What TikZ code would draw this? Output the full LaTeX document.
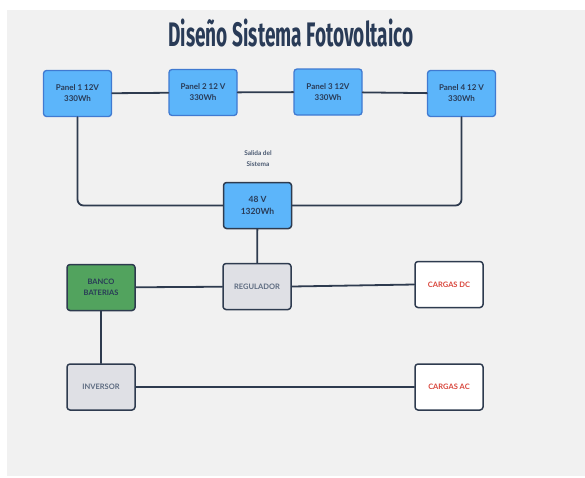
\documentclass[tikz,border=0pt]{standalone}
\usepackage{fontspec}
\setmainfont{Lato}
\newfontfamily\titlefont{Fira Sans}
\usetikzlibrary{positioning}
\definecolor{fondogris}{rgb}{0.945,0.945,0.945}
\definecolor{azulpanel}{rgb}{0.36,0.71,0.98}
\definecolor{bordeazul}{rgb}{0.25,0.48,0.82}
\definecolor{navyline}{rgb}{0.18,0.23,0.31}
\definecolor{grisreg}{rgb}{0.875,0.878,0.898}
\definecolor{verdebanco}{rgb}{0.32,0.64,0.37}
\definecolor{rojocarga}{rgb}{0.85,0.27,0.23}
\definecolor{textonavy}{rgb}{0.16,0.23,0.34}

\tikzset{
  caja/.style={draw=navyline,line width=1.5pt,rounded corners=3pt,minimum width=68pt,minimum height=46pt,align=center,font=\fontsize{7.5}{11}\selectfont\bfseries,text=textonavy},
  panel/.style={caja,draw=bordeazul,fill=azulpanel,line width=1.3pt,font=\fontsize{8}{11}\selectfont\bfseries},
  cable/.style={draw=navyline,line width=1.8pt,rounded corners=6pt}
}

\begin{document}
\begin{tikzpicture}[x=1pt,y=-1pt,line cap=round,line join=round]
    \useasboundingbox (0,0) rectangle (585,477);
    \fill[fondogris] (7,10) rectangle (585,476);
    \node[text=textonavy] (titulo) at (291,33) {\scalebox{0.56}[1]{\titlefont\bfseries\fontsize{34}{34}\selectfont Diseño Sistema Fotovoltaico}};
    % paneles
    \node[panel] (p1) at (77.5,93.5) {Panel 1 12V\\330Wh};
    \node[panel] (p2) at (203,92.5) {Panel 2 12 V\\330Wh};
    \node[panel] (p3) at (328,92) {Panel 3 12V\\330Wh};
    \node[panel] (p4) at (461.5,93.5) {Panel 4 12 V\\330Wh};
    \node[font=\fontsize{6.5}{10.5}\selectfont\bfseries,text=textonavy!85,align=center] (salida) at (258,158.5) {Salida del\\Sistema};
    \node[caja,fill=azulpanel,font=\fontsize{8.5}{12}\selectfont\bfseries] (out) at (257.5,205.5) {48 V\\1320Wh};
    % equipos
    \node[caja,fill=grisreg,text=textonavy!75] (reg) at (257,286.5) {REGULADOR};
    \node[caja,fill=verdebanco] (banco) at (101,287.5) {BANCO\\BATERIAS};
    \node[caja,fill=white,text=rojocarga] (cdc) at (449,284.5) {CARGAS DC};
    \node[caja,fill=grisreg,text=textonavy!75] (inv) at (101,387) {INVERSOR};
    \node[caja,fill=white,text=rojocarga] (cac) at (449,387) {CARGAS AC};
    % conexiones
    \draw[cable] (p1) -- (p2);
    \draw[cable] (p2) -- (p3);
    \draw[cable] (p3) -- (p4);
    \draw[cable] (p1.south) |- (out.west);
    \draw[cable] (p4.south) |- (out.east);
    \draw[cable] (out) -- (reg);
    \draw[cable] (banco) -- (reg);
    \draw[cable] (reg.east) -- (cdc.west);
    \draw[cable] (banco) -- (inv);
    \draw[cable] (inv) -- (cac);
\end{tikzpicture}
\end{document}
